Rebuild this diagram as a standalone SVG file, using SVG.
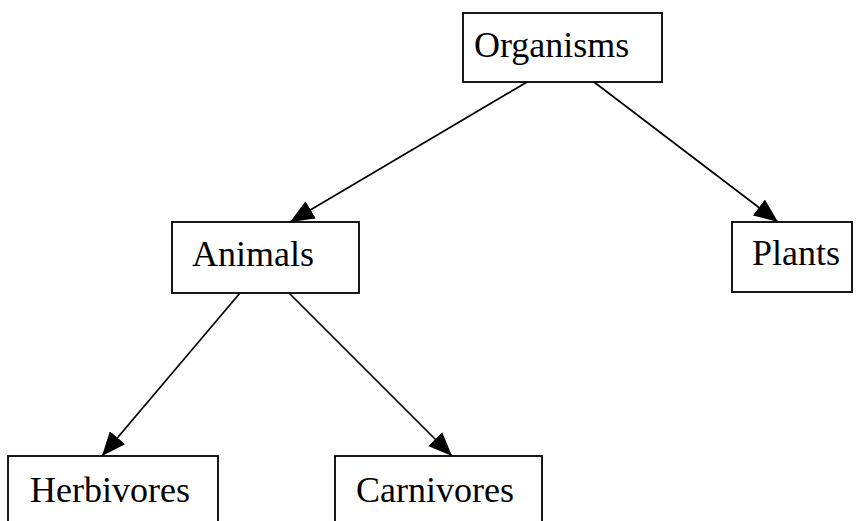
<svg xmlns="http://www.w3.org/2000/svg" width="862" height="521" viewBox="0 0 862 521">
<style>
.box{fill:#fff;stroke:#000;stroke-width:1.8}
.lbl{font-family:"Liberation Serif","Times New Roman",Times,serif;font-size:36px;fill:#000}
.edge{stroke:#000;stroke-width:1.7;fill:none;marker-end:url(#ah)}
</style>
<defs>
<marker id="ah" viewBox="0 0 24 20" refX="24" refY="10" markerWidth="24" markerHeight="20" orient="auto" markerUnits="userSpaceOnUse">
<path d="M0,0 L24,10 L0,20 Z" fill="#000"/>
</marker>
</defs>
<rect width="862" height="521" fill="#fff"/>
<g id="connectors">
<line class="edge" x1="527" y1="82" x2="290" y2="222"/>
<line class="edge" x1="594" y1="82" x2="778" y2="222"/>
<line class="edge" x1="240" y1="293" x2="102" y2="456"/>
<line class="edge" x1="289" y1="293" x2="452" y2="456"/>
</g>
<g id="organisms">
<rect class="box" x="463" y="13" width="199" height="69"/>
<text class="lbl" x="474" y="57">Organisms</text>
</g>
<g id="animals">
<rect class="box" x="172" y="222" width="187" height="71"/>
<text class="lbl" x="192" y="266">Animals</text>
</g>
<g id="plants">
<rect class="box" x="732" y="222" width="120" height="70"/>
<text class="lbl" x="752" y="265">Plants</text>
</g>
<g id="herbivores">
<rect class="box" x="8" y="456" width="210" height="80"/>
<text class="lbl" x="30" y="502">Herbivores</text>
</g>
<g id="carnivores">
<rect class="box" x="335" y="456" width="207" height="80"/>
<text class="lbl" x="356" y="502">Carnivores</text>
</g>
</svg>
